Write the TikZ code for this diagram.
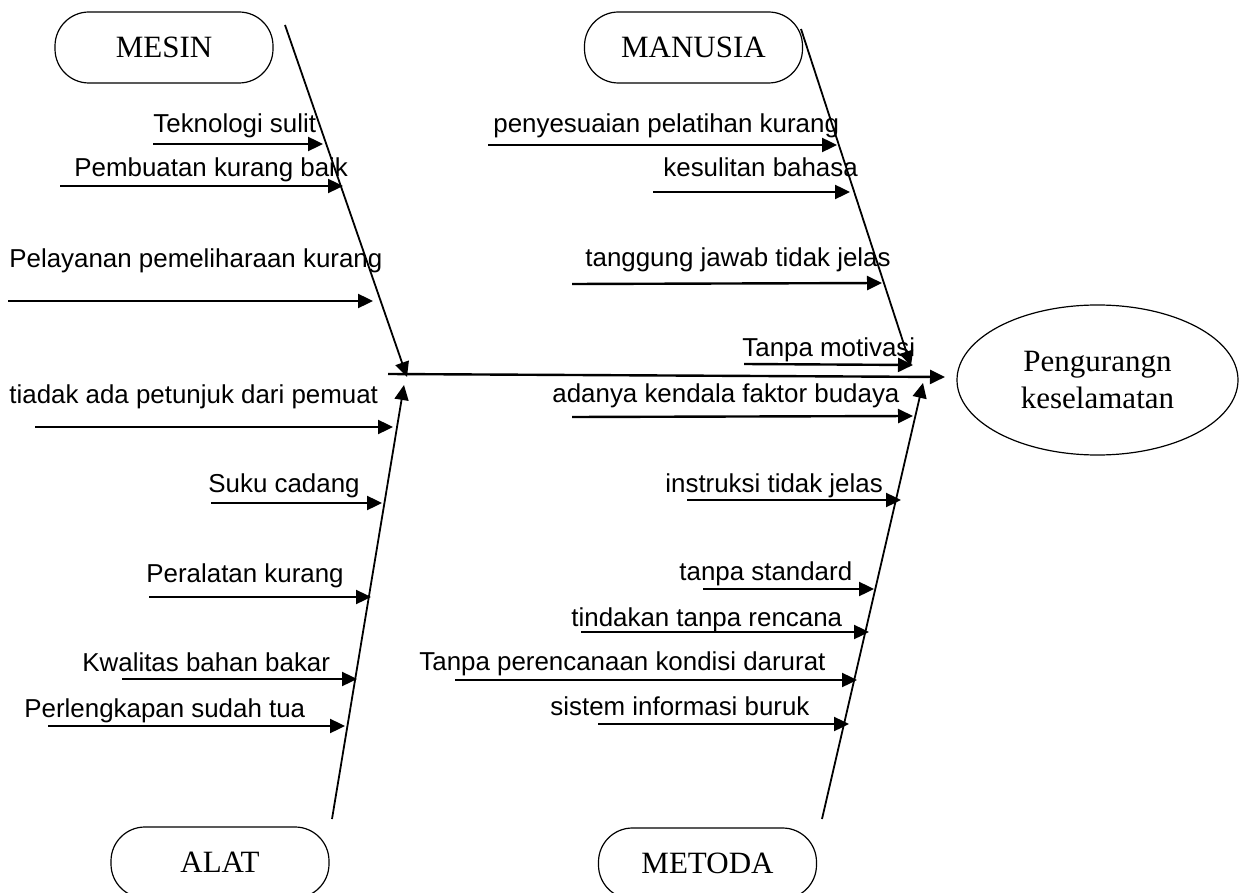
\documentclass[tikz,border=0pt]{standalone}
\usepackage{fontspec}
\setmainfont{Liberation Serif}
\newfontfamily\lsans{Liberation Sans}
\usetikzlibrary{arrows.meta,shapes.geometric}
\tikzset{
 lbl/.style={font=\lsans\fontsize{12.95}{15}\selectfont, anchor=base west, inner sep=0pt},
 carrow/.style={line width=1.2pt, -{Triangle[length=7.5pt,width=7pt]}},
 spine/.style={line width=0.9pt, -{Triangle[length=7.5pt,width=7pt]}},
 cat/.style={draw, line width=0.6pt, rounded corners=17pt, minimum width=109pt, minimum height=35.5pt, inner sep=0pt, font=\fontsize{15.5}{18.5}\selectfont},
 effect/.style={draw, ellipse, line width=0.6pt, minimum width=140.5pt, minimum height=75pt, align=center, inner sep=0pt, font=\fontsize{15.5}{18.5}\selectfont}
}
\newcommand\fbcause[8]{%
 \node[lbl] (#1) at (#3,#4) {#2};
 \coordinate (#1s) at (#5,#6);
 \coordinate (#1e) at (#7,#8);
 \draw[carrow] (#1s) -- (#1e);}
\begin{document}
\begin{tikzpicture}[x=0.5pt,y=-0.5pt]
\useasboundingbox (0,0) rectangle (1248,893);
% category boxes
\node[cat] (mesin) at (164,47.5) {MESIN};
\node[cat] (manusia) at (693.5,47.5) {MANUSIA};
\node[cat] (alat) at (220,862.5) {ALAT};
\node[cat] (metoda) at (707.5,863.5) {METODA};
% effect
\node[effect] (eff) at (1097.5,380) {Pengurangn\\keselamatan};
% spines
\coordinate (sp1s) at (285,25);  \coordinate (sp1e) at (407,377);
\coordinate (sp2s) at (801,29);  \coordinate (sp2e) at (911,366);
\coordinate (sp3s) at (332,819); \coordinate (sp3e) at (404,385);
\coordinate (sp4s) at (822,819); \coordinate (sp4e) at (923,383);
\draw[spine] (sp1s) -- (sp1e);
\draw[spine] (sp2s) -- (sp2e);
\draw[spine] (sp3s) -- (sp3e);
\draw[spine] (sp4s) -- (sp4e);
% main line
\coordinate (mains) at (388,374); \coordinate (maine) at (945,377);
\draw[carrow] (mains) -- (maine);
% left causes
\fbcause{a1}{Teknologi sulit}{153}{133}{153}{144}{323}{144}
\fbcause{a2}{Pembuatan kurang baik}{74}{177}{60}{186}{343}{186}
\fbcause{a3}{Pelayanan pemeliharaan kurang}{9}{268}{8}{301}{373}{301}
\fbcause{a4}{tiadak ada petunjuk dari pemuat}{9}{403}{35}{427}{393}{427}
\fbcause{a5}{Suku cadang}{208}{492}{211}{503}{382}{503}
\fbcause{a6}{Peralatan kurang}{146}{582}{149}{597}{371}{597}
\fbcause{a7}{Kwalitas bahan bakar}{82}{671}{122}{679}{357}{679}
\fbcause{a8}{Perlengkapan sudah tua}{24}{717}{48}{726}{345}{726}
% right causes
\fbcause{b1}{penyesuaian pelatihan kurang}{493}{133}{488}{145}{837}{145}
\fbcause{b2}{kesulitan bahasa}{663}{177}{653}{192}{850}{192}
\fbcause{b3}{tanggung jawab tidak jelas}{585}{267}{572}{284}{882}{283}
\fbcause{b4}{Tanpa motivasi}{742}{357}{744}{364}{913}{365}
\fbcause{b5}{adanya kendala faktor budaya}{552}{402}{572}{417}{913}{416}
\fbcause{b6}{instruksi tidak jelas}{665}{492}{687}{500}{901}{500}
\fbcause{b7}{tanpa standard}{679}{580}{703}{589}{874}{589}
\fbcause{b8}{tindakan tanpa rencana}{571}{626}{581}{632}{869}{632}
\fbcause{b9}{Tanpa perencanaan kondisi darurat}{419}{670}{455}{680}{857}{680}
\fbcause{b10}{sistem informasi buruk}{550}{715}{598}{724}{849}{724}
\end{tikzpicture}
\end{document}
